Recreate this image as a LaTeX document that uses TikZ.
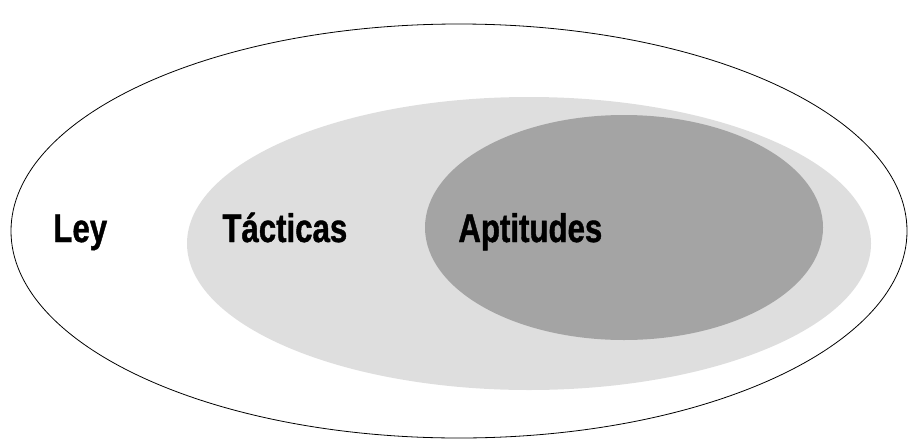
\documentclass[tikz,border=0pt]{standalone}
\usepackage{fontspec}
\newfontfamily\setfont[FakeStretch=0.78,FakeBold=1]{Liberation Sans}
\definecolor{TacticsClr}{HTML}{DEDEDE}
\definecolor{SkillsClr}{HTML}{A4A4A4}
\tikzset{
  setlabel/.style={anchor=base west,inner sep=0pt,
    font=\setfont\bfseries\fontsize{20}{24}\selectfont}
}
\begin{document}
\begin{tikzpicture}[x=0.5pt,y=0.5pt]
\useasboundingbox (0,0) rectangle (909,446);

% sets
\draw[line width=0.4pt,color=black] (459,215) ellipse [x radius=448,y radius=207];
\fill[TacticsClr] (529,202.5) ellipse [x radius=342,y radius=146.5];
\fill[SkillsClr] (624,218.5) ellipse [x radius=199,y radius=112.5];

% names
\node[setlabel] (ley) at (53,204) {Ley};
\node[setlabel] (tacticas) at (222,204) {Tácticas};
\node[setlabel] (aptitudes) at (458,204) {Aptitudes};

\end{tikzpicture}
\end{document}
